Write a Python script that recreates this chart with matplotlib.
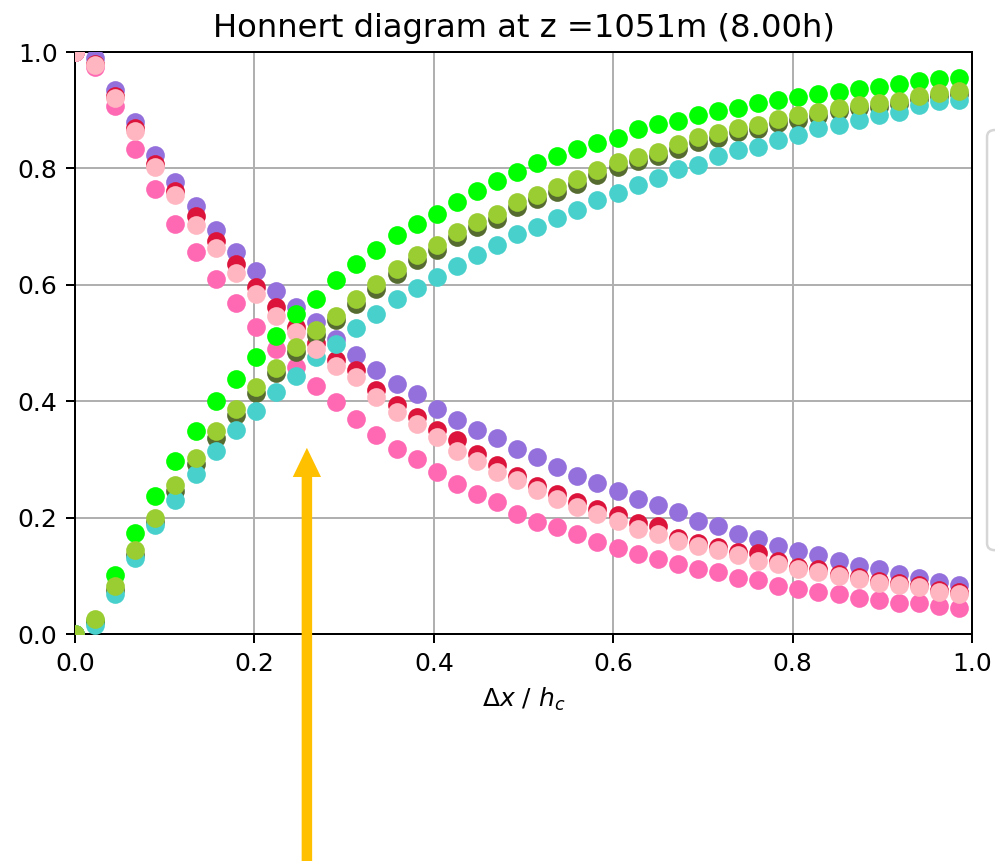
import numpy as np
import matplotlib
matplotlib.use("Agg")
import matplotlib.pyplot as plt
from matplotlib.patches import FancyArrow, FancyBboxPatch

# Δx / h_c grid (45 points)
dx_hc = np.round(np.arange(45) * 0.0224, 4)

# decreasing series
purple = [1.0, 0.99, 0.934, 0.88, 0.823, 0.776, 0.735, 0.694, 0.656, 0.623,
          0.590, 0.562, 0.536, 0.507, 0.480, 0.453, 0.430, 0.413, 0.387, 0.368,
          0.350, 0.337, 0.318, 0.305, 0.287, 0.272, 0.259, 0.245, 0.232, 0.222,
          0.209, 0.194, 0.185, 0.172, 0.163, 0.152, 0.142, 0.135, 0.125, 0.117,
          0.112, 0.103, 0.097, 0.089, 0.085]
crimson = [1.0, 0.98, 0.925, 0.87, 0.808, 0.761, 0.718, 0.676, 0.636, 0.597,
           0.562, 0.527, 0.500, 0.470, 0.453, 0.419, 0.393, 0.373, 0.350, 0.333,
           0.310, 0.290, 0.272, 0.255, 0.241, 0.227, 0.215, 0.204, 0.190, 0.185,
           0.165, 0.157, 0.150, 0.141, 0.139, 0.125, 0.116, 0.112, 0.104, 0.098,
           0.091, 0.088, 0.084, 0.075, 0.072]
lightpink = [1.0, 0.977, 0.921, 0.864, 0.803, 0.754, 0.702, 0.663, 0.620, 0.584,
             0.547, 0.519, 0.490, 0.461, 0.441, 0.407, 0.381, 0.361, 0.338, 0.315,
             0.298, 0.278, 0.264, 0.247, 0.232, 0.218, 0.207, 0.194, 0.181, 0.172,
             0.160, 0.151, 0.145, 0.136, 0.126, 0.120, 0.111, 0.107, 0.100, 0.094,
             0.087, 0.084, 0.081, 0.072, 0.069]
hotpink = [1.0, 0.974, 0.907, 0.834, 0.765, 0.705, 0.656, 0.610, 0.569, 0.527,
           0.489, 0.459, 0.426, 0.398, 0.370, 0.342, 0.318, 0.301, 0.278, 0.258,
           0.241, 0.227, 0.207, 0.192, 0.184, 0.172, 0.158, 0.148, 0.137, 0.129,
           0.120, 0.111, 0.107, 0.096, 0.093, 0.083, 0.078, 0.073, 0.069, 0.062,
           0.058, 0.054, 0.053, 0.048, 0.044]

# increasing series
lime = [0.0, 0.022, 0.102, 0.174, 0.237, 0.298, 0.348, 0.400, 0.439, 0.476,
        0.512, 0.550, 0.576, 0.608, 0.636, 0.659, 0.685, 0.705, 0.722, 0.742,
        0.761, 0.779, 0.794, 0.809, 0.822, 0.834, 0.844, 0.853, 0.868, 0.876,
        0.881, 0.891, 0.899, 0.903, 0.912, 0.917, 0.922, 0.927, 0.931, 0.937,
        0.940, 0.945, 0.950, 0.953, 0.956]
yellowgreen = [0.0, 0.026, 0.082, 0.144, 0.200, 0.256, 0.302, 0.348, 0.387, 0.425,
               0.457, 0.493, 0.522, 0.547, 0.576, 0.602, 0.628, 0.651, 0.668, 0.691,
               0.708, 0.722, 0.742, 0.755, 0.768, 0.782, 0.797, 0.811, 0.820, 0.829,
               0.842, 0.854, 0.860, 0.869, 0.875, 0.885, 0.891, 0.897, 0.904, 0.909,
               0.912, 0.915, 0.925, 0.930, 0.933]
darkolive = [0.0, 0.021, 0.076, 0.136, 0.192, 0.246, 0.292, 0.336, 0.376, 0.414,
             0.448, 0.484, 0.513, 0.539, 0.567, 0.593, 0.619, 0.642, 0.659, 0.682,
             0.699, 0.713, 0.733, 0.748, 0.759, 0.774, 0.788, 0.802, 0.812, 0.821,
             0.834, 0.846, 0.853, 0.862, 0.868, 0.878, 0.884, 0.890, 0.898, 0.903,
             0.906, 0.910, 0.919, 0.925, 0.928]
turquoise = [0.0, 0.016, 0.069, 0.131, 0.187, 0.230, 0.275, 0.315, 0.350, 0.384,
             0.416, 0.443, 0.476, 0.499, 0.525, 0.550, 0.576, 0.595, 0.613, 0.632,
             0.651, 0.669, 0.688, 0.700, 0.715, 0.728, 0.745, 0.757, 0.771, 0.783,
             0.799, 0.806, 0.821, 0.831, 0.837, 0.849, 0.858, 0.869, 0.875, 0.884,
             0.892, 0.897, 0.909, 0.915, 0.918]

# plotting order matters for the overlaps
series = [
    (purple, "mediumpurple"),
    (crimson, "crimson"),
    (hotpink, "hotpink"),
    (lime, "lime"),
    (darkolive, "darkolivegreen"),
    (turquoise, "mediumturquoise"),
    (lightpink, "lightpink"),
    (yellowgreen, "yellowgreen"),
]

fig = plt.figure(figsize=(995 / 180, 861 / 180), dpi=180)
ax = fig.add_axes([0.0754, 0.2636, 0.9015, 0.676])

for vals, col in series:
    ax.scatter(dx_hc, vals, s=56, color=col, linewidths=0, zorder=3)

ax.set_xlim(0, 1)
ax.set_ylim(0, 1)
ax.set_xticks(np.arange(0, 1.01, 0.2))
ax.set_yticks(np.arange(0, 1.01, 0.2))
ax.grid(True)
ax.set_axisbelow(True)
ax.set_title("Honnert diagram at z =1051m (8.00h)", fontsize=12.9)
ax.set_xlabel(r"$\Delta x$ / $h_c$")

# only the left edge of the legend frame is visible (it is cut by the figure edge)
frame = FancyBboxPatch((0.992, 0.361), 0.1, 0.488,
                       boxstyle="round,pad=0,rounding_size=0.008",
                       transform=fig.transFigure, facecolor="white",
                       edgecolor="0.8", linewidth=1.0, alpha=0.8)
fig.patches.append(frame)

# orange arrow pointing at the grey-zone crossing
arrow = FancyArrow(0.2585, -0.46, 0, 0.775, width=0.0089, head_width=0.027,
                   head_length=0.043, length_includes_head=True,
                   color="#FFC000", transform=ax.transData, clip_on=False,
                   zorder=5)
ax.add_patch(arrow)

fig.savefig("out.png", dpi=180)
